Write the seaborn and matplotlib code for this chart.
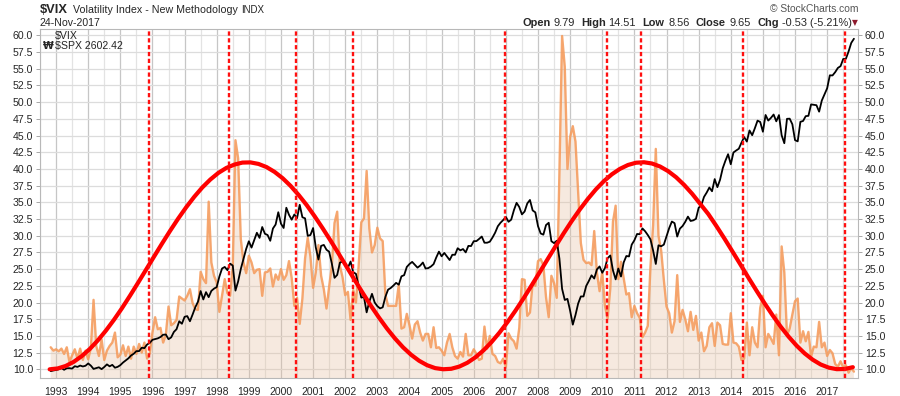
import numpy as np
import pandas as pd
import matplotlib
matplotlib.use("Agg")
import matplotlib.pyplot as plt
import seaborn as sns

# monthly closes, Nov 1992 .. Nov 2017
vix_close = [
    13.3, 12.8,
    13.0, 12.7, 13.1, 12.3, 13.3, 11.1, 12.1, 13.0, 11.6, 13.1, 11.4, 12.8,   # 1993
    11.5, 13.2, 20.4, 13.5, 12.0, 14.5, 11.4, 12.8, 13.5, 14.0, 15.5, 11.8,   # 1994
    12.2, 13.6, 12.0, 13.4, 11.6, 13.4, 12.3, 13.8, 12.5, 14.0, 11.6, 12.4,   # 1995
    15.5, 17.8, 16.0, 16.2, 14.0, 15.2, 19.4, 16.6, 16.9, 17.4, 20.9, 20.6,   # 1996
    20.3, 21.0, 22.0, 19.9, 19.0, 18.9, 24.6, 23.5, 22.9, 35.1, 26.0, 24.0,   # 1997
    23.0, 18.6, 21.0, 23.5, 21.4, 21.0, 25.5, 44.3, 41.6, 29.5, 26.0, 24.4,   # 1998
    27.0, 26.0, 24.4, 24.9, 25.0, 21.0, 24.5, 24.6, 25.1, 22.4, 24.2, 23.4,   # 1999
    25.0, 23.4, 24.1, 26.2, 23.7, 19.5, 20.7, 16.8, 20.6, 26.6, 29.7, 26.9,   # 2000
    22.2, 24.5, 28.6, 24.0, 22.0, 19.1, 22.4, 25.5, 31.9, 33.6, 25.5, 23.8,   # 2001
    21.1, 21.6, 17.4, 21.9, 20.0, 25.4, 32.0, 32.6, 39.7, 31.1, 27.5, 28.6,   # 2002
    31.2, 29.6, 29.2, 21.2, 19.5, 19.5, 19.5, 19.5, 22.7, 16.1, 16.3, 18.3,   # 2003
    16.6, 14.6, 16.7, 17.2, 15.5, 14.3, 15.3, 15.3, 13.3, 16.3, 13.2, 13.3,   # 2004
    12.8, 12.1, 14.0, 15.3, 13.3, 12.0, 11.6, 12.6, 11.9, 15.3, 12.1, 12.1,   # 2005
    13.0, 12.3, 11.4, 11.6, 16.4, 13.1, 15.0, 12.3, 12.0, 11.1, 10.9, 11.6,   # 2006
    10.4, 15.4, 14.6, 14.2, 13.1, 16.2, 23.5, 23.4, 18.0, 18.5, 22.9, 22.5,   # 2007
    26.2, 26.5, 25.6, 20.8, 17.8, 24.0, 22.9, 20.7, 39.4, 59.9, 55.3, 40.0,   # 2008
    44.8, 46.4, 44.1, 36.5, 28.9, 26.4, 25.9, 26.0, 25.6, 30.7, 24.5, 21.7,   # 2009
    24.6, 19.5, 17.6, 22.1, 32.1, 34.5, 23.5, 26.1, 23.7, 21.2, 21.4, 17.8,   # 2010
    19.5, 18.4, 17.7, 14.8, 15.5, 16.5, 25.3, 31.6, 43.0, 30.0, 27.8, 23.4,   # 2011
    19.4, 18.4, 15.5, 17.2, 24.1, 17.1, 18.9, 17.5, 15.7, 18.6, 15.9, 18.0,   # 2012
    14.3, 15.5, 12.7, 13.5, 16.3, 16.9, 13.5, 17.0, 16.6, 13.8, 13.7, 13.7,   # 2013
    18.4, 14.0, 13.9, 13.4, 11.4, 11.6, 17.0, 12.1, 16.3, 14.0, 13.3, 19.2,   # 2014
    21.0, 13.3, 15.3, 14.6, 13.8, 18.2, 12.1, 28.4, 24.5, 15.1, 16.1, 18.2,   # 2015
    20.2, 20.6, 14.0, 15.7, 14.2, 15.6, 11.9, 13.4, 13.3, 17.1, 13.3, 14.0,   # 2016
    12.0, 12.9, 12.4, 10.8, 10.4, 11.2, 10.3, 10.6, 9.5, 10.2, 9.65,          # 2017
]

spx_close = [
    431.4, 435.7,
    438.8, 443.4, 451.7, 440.2, 450.2, 450.5, 448.1, 463.6, 458.9, 467.8, 461.8, 466.5,
    481.6, 467.1, 445.8, 450.9, 456.5, 444.3, 458.3, 475.5, 462.7, 472.4, 453.7, 459.3,
    470.4, 487.4, 500.7, 514.7, 533.4, 544.8, 562.1, 561.9, 584.4, 581.5, 605.4, 615.9,
    636.0, 640.4, 645.5, 654.2, 669.1, 670.6, 640.0, 652.0, 687.3, 705.3, 757.0, 740.7,
    786.2, 790.8, 757.1, 801.3, 848.3, 885.1, 954.3, 899.5, 947.3, 914.6, 955.4, 970.4,
    980.3, 1049.3, 1101.8, 1111.8, 1090.8, 1133.8, 1120.7, 957.3, 1017.0, 1098.7, 1163.6, 1229.2,
    1279.6, 1238.3, 1286.4, 1335.2, 1301.8, 1372.7, 1328.7, 1320.4, 1282.7, 1362.9, 1388.9, 1469.3,
    1394.5, 1366.4, 1498.6, 1452.4, 1420.6, 1454.6, 1430.8, 1517.7, 1436.5, 1429.4, 1315.0, 1320.3,
    1366.0, 1239.9, 1160.3, 1249.5, 1255.8, 1224.4, 1211.2, 1133.6, 1040.9, 1059.8, 1139.5, 1148.1,
    1130.2, 1106.7, 1147.4, 1076.9, 1067.1, 989.8, 911.6, 916.1, 815.3, 885.8, 936.3, 879.8,
    855.7, 841.2, 848.2, 916.9, 963.6, 974.5, 990.3, 1008.0, 996.0, 1050.7, 1058.2, 1111.9,
    1131.1, 1144.9, 1126.2, 1107.3, 1120.7, 1140.8, 1101.7, 1104.2, 1114.6, 1130.2, 1173.8, 1211.9,
    1181.3, 1203.6, 1180.6, 1156.9, 1191.5, 1191.3, 1234.2, 1220.3, 1228.8, 1207.0, 1249.5, 1248.3,
    1280.1, 1280.7, 1294.8, 1310.6, 1270.1, 1270.2, 1276.7, 1303.8, 1335.9, 1377.9, 1400.6, 1418.3,
    1438.2, 1406.8, 1420.9, 1482.4, 1530.6, 1503.4, 1455.3, 1474.0, 1526.8, 1549.4, 1481.1, 1468.4,
    1378.6, 1330.6, 1322.7, 1385.6, 1400.4, 1280.0, 1267.4, 1282.8, 1166.4, 968.8, 896.2, 903.3,
    825.9, 735.1, 797.9, 872.8, 919.1, 919.3, 987.5, 1020.6, 1057.1, 1036.2, 1095.6, 1115.1,
    1073.9, 1104.5, 1169.4, 1186.7, 1089.4, 1030.7, 1101.6, 1049.3, 1141.2, 1183.3, 1180.6, 1257.6,
    1286.1, 1327.2, 1325.8, 1363.6, 1345.2, 1320.6, 1292.3, 1218.9, 1131.4, 1253.3, 1247.0, 1257.6,
    1312.4, 1365.7, 1408.5, 1397.9, 1310.3, 1362.2, 1379.3, 1406.6, 1440.7, 1412.2, 1416.2, 1426.2,
    1498.1, 1514.7, 1569.2, 1597.6, 1630.7, 1606.3, 1685.7, 1633.0, 1681.6, 1756.5, 1805.8, 1848.4,
    1782.6, 1859.5, 1872.3, 1884.0, 1923.6, 1960.2, 1930.7, 2003.4, 1972.3, 2018.1, 2067.6, 2058.9,
    1995.0, 2104.5, 2067.9, 2085.5, 2107.4, 2063.1, 2103.8, 1972.2, 1920.0, 2079.4, 2080.4, 2043.9,
    1940.2, 1932.2, 2059.7, 2065.3, 2097.0, 2098.9, 2173.6, 2171.0, 2168.3, 2126.2, 2198.8, 2238.8,
    2278.9, 2363.6, 2362.7, 2384.2, 2411.8, 2423.4, 2470.3, 2471.7, 2519.4, 2575.3, 2602.4,
]

# red cycle, read every quarter year starting late 1992
cycle_start = 1992.8
cycle_level = [
    10.00, 10.13, 10.50, 11.12, 11.98, 13.05, 14.33, 15.79, 17.40, 19.14,
    21.01, 22.94, 24.91, 26.88, 28.84, 30.74, 32.56, 34.26, 35.82, 37.22,
    38.41, 39.40, 40.15, 40.65, 40.95, 40.98, 40.75, 40.28, 39.56, 38.62,
    37.46, 36.10, 34.59, 32.90, 31.10, 29.22, 27.28, 25.30, 23.33, 21.39,
    19.51, 17.75, 16.10, 14.61, 13.29, 12.18, 11.28, 10.61, 10.18, 10.01,
    10.08, 10.41, 10.98, 11.79, 12.82, 14.06, 15.49, 17.07, 18.79, 20.62,
    22.55, 24.51, 26.49, 28.45, 30.37, 32.20, 33.92, 35.50, 36.93, 38.17,
    39.20, 40.01, 40.59, 40.93, 41.00, 40.81, 40.36, 39.67, 38.75, 37.60,
    36.27, 34.76, 33.25, 31.47, 29.60, 27.66, 25.70, 23.72, 21.78, 19.90,
    18.10, 16.41, 14.89, 13.54, 12.38, 11.44, 10.72, 10.25, 10.02, 10.05,
    10.32,
]

# red dashed verticals
turn_years = [1995.89, 1998.38, 2000.48, 2002.24, 2006.97, 2010.15, 2011.22, 2014.39, 2017.56]

year_ticks = list(range(1993, 2018))
vix_ticks = np.arange(10, 60.1, 2.5)

months = pd.date_range("1992-11-01", periods=len(vix_close), freq="MS")
df = pd.DataFrame({
    "t": months.year + (months.month - 1) / 12,
    "vix": vix_close,
    "spx": spx_close,
})
cycle_t = cycle_start + 0.25 * np.arange(len(cycle_level))

sns.set_theme(style="white")
plt.rcParams["font.family"] = ["Liberation Sans", "DejaVu Sans"]

fig = plt.figure(figsize=(9, 3.96), dpi=100)
ax = fig.add_axes([40 / 900, 18 / 396, 818 / 900, 349 / 396])

ax.fill_between(df.t, df.vix, 0, color="#e6bf9f", alpha=0.33, lw=0, zorder=1)
sns.lineplot(data=df, x="t", y="vix", ax=ax, color="#f59b5c", lw=1.7, alpha=0.88, zorder=2)

ax2 = ax.twinx()
sns.lineplot(data=df, x="t", y="spx", ax=ax2, color="black", lw=1.3, zorder=3)
ax2.plot(cycle_t, cycle_level, transform=ax.transData, color="#ff0000", lw=3.0,
         solid_capstyle="round", zorder=4)
for t in turn_years:
    ax2.axvline(t, color="#ff1010", lw=1.7, ls=(0, (1.8, 1.1)), zorder=5)

ax.set_xlim(1992.79, 2017.96)
ax.set_ylim(8.7, 60.95)
ax2.set_ylim(386.5, 2666.1)

ax.set_xticks(year_ticks)
ax.set_xticklabels([str(y) for y in year_ticks])
ax.set_xticks([y + 0.5 for y in range(1992, 2018)], minor=True)
ax.set_yticks(vix_ticks)
ax.set_yticklabels([f"{v:.1f}" for v in vix_ticks])
ax.grid(True, which="major", axis="x", color="#c6c6c6", lw=0.9)
ax.grid(True, which="minor", axis="x", color="#e3e3e3", lw=0.9)
ax.grid(True, which="major", axis="y", color="#dcdcdc", lw=0.9)
ax.tick_params(axis="y", left=True, right=True, labelleft=True, labelright=True,
               length=3, width=0.6, color="#999999", labelsize=7.6, pad=2)
ax.tick_params(axis="x", which="both", bottom=False, labelsize=7.5, pad=0.6)
ax.set(xlabel="", ylabel="")
ax2.set_ylabel("")
ax2.set_yticks([])
ax2.tick_params(right=False)
for s in ax.spines.values():
    s.set_color("#b8b8b8")
    s.set_linewidth(0.8)
for s in ax2.spines.values():
    s.set_visible(False)

# header
def put(x, y, txt, **kw):
    return fig.text(x / 900, 1 - y / 396, txt, va="baseline", **kw)

renderer = fig.canvas.get_renderer()
put(40, 13, "$VIX", fontsize=9.3, fontweight="bold")
name = put(72.7, 13, "Volatility Index - New Methodology", fontsize=7.7)
put(name.get_window_extent(renderer).x1 + 4, 13, "INDX", fontsize=7.0)
put(40, 26, "24-Nov-2017", fontsize=7.6)
put(858, 12, "\u00a9 StockCharts.com", fontsize=7.4, color="#555555", ha="right")

hdr = [(522.7, "Open", "bold"), (553.3, "9.79", "normal"), (581.7, "High", "bold"),
       (608.3, "14.51", "normal"), (642.3, "Low", "bold"), (668.3, "8.56", "normal"),
       (696, "Close", "bold"), (730, "9.65", "normal"), (757.3, "Chg", "bold"),
       (781.7, "-0.53 (-5.21%)", "normal")]
for x, txt, w in hdr:
    put(x, 26, txt, fontsize=7.9, fontweight=w)
put(852.3, 25, "\u25bc", fontsize=5.5, color="#8e1b2e", family=["DejaVu Sans"])

# legend inside plot
put(55, 39, "$VIX", fontsize=7.6)
put(42.5, 49, "\u20a9", fontsize=7, fontweight="bold", family=["DejaVu Sans"])
put(55, 49, "$SPX 2602.42", fontsize=7.6)

fig.savefig("out.png", dpi=100, facecolor="white")
